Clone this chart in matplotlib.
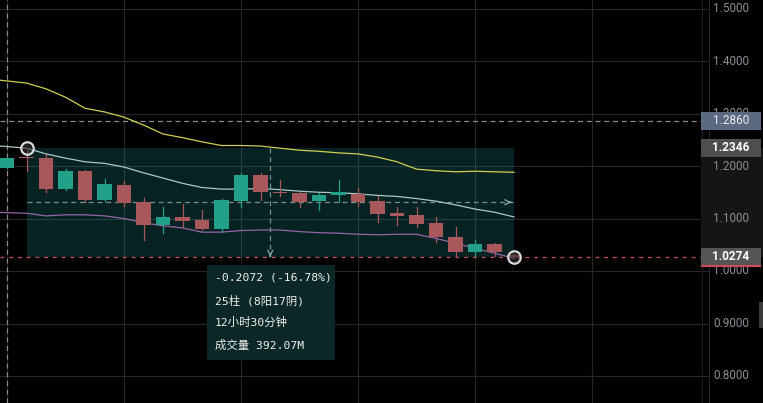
import matplotlib.pyplot as plt
from matplotlib.patches import Rectangle
import matplotlib.transforms as mtransforms
import numpy as np

# candles (bar index 0..26)
opens  = [1.197, 1.2156, 1.215, 1.156, 1.1905, 1.135, 1.164, 1.131, 1.088, 1.102, 1.098, 1.080, 1.134,
          1.183, 1.151, 1.148, 1.133, 1.144, 1.147, 1.134, 1.110, 1.106, 1.091, 1.064, 1.037, 1.051, 1.031]
highs  = [1.2175, 1.2346, 1.221, 1.194, 1.193, 1.175, 1.171, 1.140, 1.122, 1.128, 1.116, 1.137, 1.187,
          1.187, 1.173, 1.151, 1.149, 1.173, 1.158, 1.142, 1.122, 1.121, 1.102, 1.083, 1.059, 1.054, 1.032]
lows   = [1.196, 1.191, 1.150, 1.154, 1.131, 1.133, 1.124, 1.060, 1.072, 1.084, 1.078, 1.077, 1.122,
          1.135, 1.142, 1.121, 1.117, 1.132, 1.124, 1.093, 1.088, 1.083, 1.055, 1.028, 1.029, 1.029, 1.0274]
closes = [1.216, 1.2146, 1.156, 1.1905, 1.135, 1.165, 1.130, 1.088, 1.102, 1.096, 1.080, 1.135, 1.183,
          1.150, 1.148, 1.132, 1.144, 1.150, 1.131, 1.109, 1.105, 1.090, 1.064, 1.036, 1.051, 1.036, 1.0274]

# bollinger-style bands (bar index -1..26)
band_idx = np.arange(-1, 27)
upper  = [1.366, 1.362, 1.358, 1.347, 1.331, 1.310, 1.303, 1.293, 1.278, 1.261, 1.254, 1.246, 1.239, 1.239,
          1.238, 1.234, 1.230, 1.228, 1.225, 1.223, 1.217, 1.208, 1.194, 1.191, 1.189, 1.190, 1.189, 1.188]
middle = [1.240, 1.237, 1.234, 1.223, 1.215, 1.208, 1.205, 1.198, 1.187, 1.177, 1.167, 1.159, 1.156, 1.156,
          1.157, 1.155, 1.152, 1.150, 1.149, 1.147, 1.144, 1.142, 1.138, 1.133, 1.126, 1.118, 1.112, 1.103]
lower  = [1.113, 1.111, 1.110, 1.105, 1.107, 1.107, 1.105, 1.100, 1.092, 1.086, 1.082, 1.074, 1.074, 1.077,
          1.078, 1.078, 1.075, 1.073, 1.072, 1.070, 1.069, 1.070, 1.070, 1.062, 1.053, 1.043, 1.034, 1.024]

price_ticks = [0.8, 0.9, 1.0, 1.1, 1.2, 1.3, 1.4, 1.5]
crosshair_bar = 0
crosshair_price = 1.2860
start_bar, end_bar = 1, 26
start_price, end_price = 1.2346, 1.0274
last_price = 1.0274
info_lines = ["-0.2072 (-16.78%)", "25柱 (8阳17阴)", "12小时30分钟", "成交量 392.07M"]

GREEN = '#22a08a'
RED = '#a8585a'

fig = plt.figure(figsize=(7.63, 4.03), dpi=100, facecolor='black')
ax = fig.add_axes([0, 0, 1, 1])
ax.set_facecolor('black')
ax.set_xlim(-7 / 19.5, (763 - 7) / 19.5)
ax.set_ylim(1 + (271 - 403) / 525, 1 + 271 / 525)
ax.axis('off')
right_edge = (709 - 7) / 19.5
blend = mtransforms.blended_transform_factory(ax.transAxes, ax.transData)

# grid
for p in price_ticks:
    ax.plot([ax.get_xlim()[0], right_edge], [p, p], color='#262626', lw=0.8, zorder=0)
for b in range(0, 37, 6):
    ax.axvline(b, color='#262626', lw=0.8, zorder=0)
ax.axvline((702 - 7) / 19.5, color='#1e1e1e', lw=0.8, zorder=0)

# measure box
ax.add_patch(Rectangle((start_bar, end_price), end_bar - start_bar, start_price - end_price,
                       facecolor=(0.16, 0.72, 0.72, 0.19), edgecolor='none', zorder=1))
mid_p = (start_price + end_price) / 2
mid_b = (start_bar + end_bar) / 2
ax.plot([start_bar, end_bar], [mid_p, mid_p], color='#6f9290', lw=0.9, ls=(0, (4, 3)), zorder=2)
ax.plot([mid_b, mid_b], [start_price, end_price], color='#6f9290', lw=0.9, ls=(0, (4, 3)), zorder=2)
ax.annotate('', xy=(end_bar, mid_p), xytext=(end_bar - 0.3, mid_p),
            arrowprops=dict(arrowstyle='->', color='#8fb0ae', lw=0.9, mutation_scale=9), zorder=2)
ax.annotate('', xy=(mid_b, end_price), xytext=(mid_b, end_price + 0.006),
            arrowprops=dict(arrowstyle='->', color='#8fb0ae', lw=0.9, mutation_scale=9), zorder=2)

# crosshair + last price line
ax.axvline(crosshair_bar, color='#8a8a8a', lw=0.9, ls=(0, (4, 3)), zorder=2)
ax.plot([ax.get_xlim()[0], (702 - 7) / 19.5], [crosshair_price] * 2, color='#8a8a8a', lw=0.9,
        ls=(0, (4, 3)), zorder=2)
ax.plot([ax.get_xlim()[0], (702 - 7) / 19.5], [last_price] * 2, color='#c8506a', lw=0.9,
        ls=(0, (3, 4)), zorder=2)

# bands
ax.plot(band_idx, upper, color='#cfcf55', lw=0.9, zorder=3)
ax.plot(band_idx, middle, color='#a9c9c8', lw=0.9, zorder=3)
ax.plot(band_idx, lower, color='#9466a6', lw=0.9, zorder=3)

# candles
w = 0.75
for i, (o, h, l, c) in enumerate(zip(opens, highs, lows, closes)):
    col = GREEN if c >= o else RED
    ax.plot([i, i], [l, h], color=col, lw=0.9, zorder=4)
    ax.add_patch(Rectangle((i - w / 2, min(o, c)), w, max(abs(c - o), 0.003),
                           facecolor=col, edgecolor='none', zorder=5))

# anchor circles
ax.plot([start_bar, end_bar], [start_price, end_price], 'o', ms=9, mfc=(0.2, 0.2, 0.2, 0.6),
        mec='#d8d8d8', mew=1.6, zorder=6)

# info box
ax.add_patch(Rectangle((207 / 763, (403 - 360) / 403), 128 / 763, 95 / 403, transform=ax.transAxes,
                       facecolor='#0b2727', edgecolor='none', zorder=6))
for k, t in enumerate(info_lines):
    ax.text(215 / 763, (403 - (278 + 22.3 * k)) / 403, t, transform=ax.transAxes, color='#f0f0f0',
            fontsize=8.2, va='center', ha='left', fontweight='medium',
            family=['DejaVu Sans Mono', 'Noto Sans CJK SC'], zorder=7)

# price scale
ax.add_patch(Rectangle((701 / 763, end_price), 62 / 763, start_price - end_price, transform=blend,
                       facecolor='#151515', edgecolor='none', zorder=6))
for p in price_ticks:
    ax.text(713 / 763, p, f'{p:.4f}', transform=blend, color='#8a8e96', fontsize=8.5,
            family='Roboto', va='center', ha='left', zorder=7)

def price_label(p, bg, fg, bold):
    h = 18 / 525
    ax.add_patch(Rectangle((701 / 763, p - h / 2), 60 / 763, h, transform=blend,
                           facecolor=bg, edgecolor='none', zorder=8))
    ax.text(731 / 763, p, f'{p:.4f}', transform=blend, color=fg, fontsize=8.5, family='Roboto',
            fontweight='bold' if bold else 'normal', va='center', ha='center', zorder=9)

price_label(crosshair_price, '#5b6a80', '#e8ebf2', False)
price_label(start_price, '#4e4e4e', '#ffffff', True)
price_label(last_price, '#555555', '#ffffff', True)
ax.add_patch(Rectangle((701 / 763, last_price - 10 / 525), 60 / 763, 2 / 525, transform=blend,
                       facecolor='#d04a5a', edgecolor='none', zorder=9))
ax.add_patch(Rectangle((759 / 763, (403 - 328) / 403), 4 / 763, 26 / 403, transform=ax.transAxes,
                       facecolor='#3a3a3a', edgecolor='none', zorder=9))

fig.savefig('out.png', dpi=100, facecolor='black')
